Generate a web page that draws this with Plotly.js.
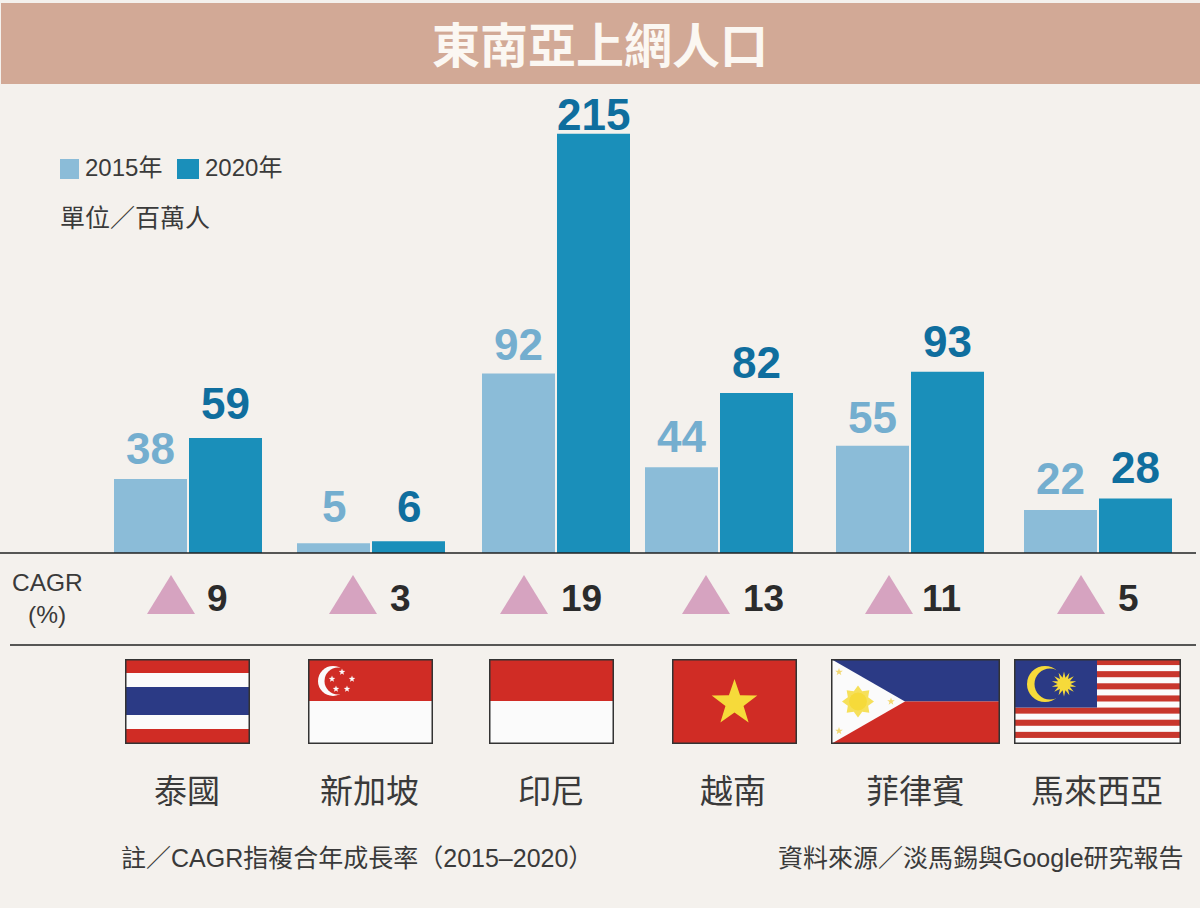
<!DOCTYPE html>
<html><head><meta charset="utf-8">
<script src="https://cdn.plot.ly/plotly-3.0.1.min.js"></script>
<style>html,body{margin:0;padding:0;background:#F4F1ED}#chart{width:1200px;height:908px}</style>
</head><body><div id="chart"></div>
<script>
// ---- data ----
const countries = ['泰國','新加坡','印尼','越南','菲律賓','馬來西亞'];
const users2015 = [38,5,92,44,55,22];
const users2020 = [59,6,215,82,93,28];
const cagr = [9,3,19,13,11,5];
const seriesNames = ['2015年','2020年'];
const chartTitle = '東南亞上網人口';
const unitNote = '單位／百萬人';
const cagrLabel = ['CAGR','(%)'];
const footNote = '註／CAGR指複合年成長率（2015–2020）';
const sourceNote = '資料來源／淡馬錫與Google研究報告';

// ---- layout constants ----
const W=1200,H=908, PX=1.95, BASE=553;
const groupX=[188,371,556,719,910,1098];
const triX=[171,353,524,706,889,1081];
const numX=[217,400,581,763,941,1128];
const nameX=[187,369,551,733,915,1097];
const flagBox=[[125,250],[308,433],[489,614],[672,797],[831,1000],[1014,1181]];
const gap15=[30,37,29,31,28,32];
const gap20=[34,35,19,31,30,31];
const C15='#8BBCD8',C20='#1A8FBA',L15='#74AECF',L20='#0F6E9E';
const INK='#3a3a3a';
const FONT='"Liberation Sans","Noto Sans CJK TC",sans-serif';
const CJK='"Noto Sans CJK TC","Liberation Sans",sans-serif';
const yp=p=>1-p/H;

const barW=73, off=37.5;
const bar=(vals,name,col,dx)=>({type:'bar',name,x:groupX.map(v=>v+dx),y:vals,width:barW,
  marker:{color:col,line:{width:0}},hoverinfo:'x+y'});
const traces=[bar(users2015,seriesNames[0],C15,-off),bar(users2020,seriesNames[1],C20,off)];

// ---- flags ----
const RED='#D02C25',BLUE='#2B3A85',WH='#FBFBFB',YEL='#F6DA3A',EDGE='#333';
const rect=(x,y,w,h,f)=>`<rect x="${x}" y="${y}" width="${w}" height="${h}" fill="${f}"/>`;
function star(cx,cy,R,r,n,f,rot=-90){let p=[];for(let i=0;i<2*n;i++){const a=(rot+i*180/n)*Math.PI/180,q=i%2?r:R;p.push((cx+q*Math.cos(a)).toFixed(2)+','+(cy+q*Math.sin(a)).toFixed(2));}return `<polygon points="${p.join(' ')}" fill="${f}"/>`;}
function wrap(w,h,body){return 'data:image/svg+xml;charset=utf-8,'+encodeURIComponent(`<svg xmlns="http://www.w3.org/2000/svg" width="${w}" height="${h}" viewBox="0 0 ${w} ${h}">${body}<rect x="0.75" y="0.75" width="${w-1.5}" height="${h-1.5}" fill="none" stroke="${EDGE}" stroke-width="1.5"/></svg>`);}
const fH=85;
const flags=[
 ()=>wrap(125,fH,rect(0,0,125,fH,RED)+rect(0,14,125,14,WH)+rect(0,28,125,28,BLUE)+rect(0,56,125,14,WH)),
 ()=>{let s=rect(0,0,125,fH,WH)+rect(0,0,125,42,RED)+`<circle cx="25" cy="22" r="15" fill="${WH}"/><circle cx="30" cy="22" r="13.5" fill="${RED}"/>`;
   [[34,13],[44,20],[39,30],[28,30],[24,20]].forEach(p=>s+=star(p[0],p[1],3.4,1.4,5,WH));return wrap(125,fH,s);},
 ()=>wrap(125,fH,rect(0,0,125,fH,WH)+rect(0,0,125,42,RED)),
 ()=>wrap(125,fH,rect(0,0,125,fH,RED)+star(62.5,44,24,9.5,5,YEL)),
 ()=>{let s=rect(0,0,169,42.5,BLUE)+rect(0,42.5,169,42.5,RED)+`<polygon points="0,0 74,42.5 0,85" fill="${WH}"/>`;
   s+=star(27,42.5,16,11,8,'#F6E05A')+`<circle cx="27" cy="42.5" r="9" fill="${YEL}"/>`;
   [[8,13],[8,72],[60,42.5]].forEach(p=>s+=star(p[0],p[1],4,1.6,5,'#F2D873'));return wrap(169,fH,s);},
 ()=>{let s=rect(0,0,167,fH,WH);for(let i=0;i<14;i+=2)s+=rect(0,i*fH/14,167,fH/14,'#C8362C');
   s+=rect(0,0,83,fH*8/14,BLUE)+`<circle cx="31" cy="25" r="18" fill="${YEL}"/><circle cx="36" cy="25" r="15.5" fill="${BLUE}"/>`;
   s+=star(50,25,12.5,6.5,14,YEL);return wrap(167,fH,s);}
];
const images=flags.map((f,i)=>({source:f(),xref:'paper',yref:'paper',x:flagBox[i][0]/W,y:yp(659),
  sizex:(flagBox[i][1]-flagBox[i][0])/W,sizey:fH/H,xanchor:'left',yanchor:'top',sizing:'stretch',layer:'above'}));

// ---- decoration shapes ----
const line=(x0,x1,py)=>({type:'line',xref:'x',yref:'paper',x0,x1,y0:yp(py),y1:yp(py),line:{color:'#222',width:1.5},layer:'above'});
const box=(x0,x1,p0,p1,c)=>({type:'rect',xref:'x',yref:'paper',x0,x1,y0:yp(p0),y1:yp(p1),fillcolor:c,line:{width:0},layer:'below'});
const triPath=cx=>`M ${(cx-24)/W} ${yp(614)} L ${cx/W} ${yp(575)} L ${(cx+24)/W} ${yp(614)} Z`;
const shapes=[
  box(1,1200,3,84,'#D2A996'),
  box(60,79,159,179,C15),box(177,199,159,179,C20),
  line(0,1196,553),line(10,1196,645),
  ...triX.map(cx=>({type:'path',xref:'paper',yref:'paper',path:triPath(cx),fillcolor:'#D6A3C0',line:{width:0},layer:'below'}))
];

// ---- text ----
const ann=(text,x,py,size,color,opt={})=>Object.assign({text,x,y:yp(py),xref:'x',yref:'paper',showarrow:false,
  xanchor:'center',yanchor:'middle',font:{family:FONT,size,color},borderpad:0,borderwidth:0},opt);
const valueLabels=(vals,dx,gaps,color)=>vals.map((v,i)=>({text:String(v),x:groupX[i]+dx,y:v,xref:'x',yref:'y',
  yshift:gaps[i],showarrow:false,xanchor:'center',yanchor:'middle',borderpad:0,borderwidth:0,
  font:{family:FONT,size:44,color,weight:700}}));
const annotations=[
  ann(chartTitle,600,42,48,'#FBF7F2',{font:{family:CJK,size:48,color:'#FBF7F2',weight:700}}),
  ...valueLabels(users2015,-off,gap15,L15),
  ...valueLabels(users2020,off,gap20,L20),
  ann(seriesNames[0],85,167,24,INK,{xanchor:'left'}),
  ann(seriesNames[1],205,167,24,INK,{xanchor:'left'}),
  ann(unitNote,60,218,25,INK,{xanchor:'left'}),
  ann(cagrLabel[0],47,582,24.5,INK),
  ann(cagrLabel[1],47,614,24.5,INK),
  ...cagr.map((v,i)=>ann('<b>'+v+'</b>',numX[i],598,37,'#2b2b2b')),
  ...countries.map((c,i)=>ann(c,nameX[i],789,33,INK,{font:{family:CJK,size:33,color:INK}})),
  ann(footNote,121,858,25,INK,{xanchor:'left'}),
  ann(sourceNote,1184,858,25,INK,{xanchor:'right'})
];

Plotly.newPlot('chart',traces,{
  width:W,height:H,margin:{l:0,r:0,t:0,b:0,pad:0},
  paper_bgcolor:'#F4F1ED',plot_bgcolor:'rgba(0,0,0,0)',
  barmode:'overlay',showlegend:false,
  xaxis:{range:[0,W],visible:false,fixedrange:true},
  yaxis:{range:[(BASE-H)/PX,BASE/PX],visible:false,fixedrange:true},
  shapes,annotations,images,font:{family:FONT}
},{displayModeBar:false});
</script></body></html>
